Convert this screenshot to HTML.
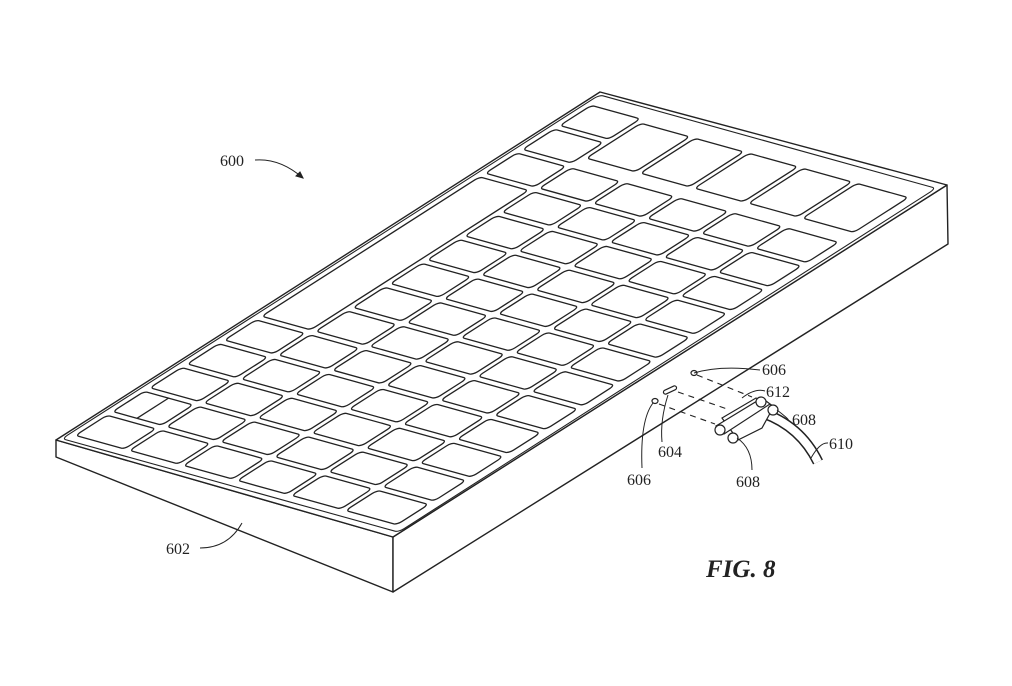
<!DOCTYPE html>
<html><head><meta charset="utf-8"><style>
html,body{margin:0;padding:0;background:#fff;}
svg{display:block;}
text{font-family:"Liberation Serif",serif;font-size:16px;fill:#222;}
</style></head><body>
<svg width="1012" height="686" viewBox="0 0 1012 686" xmlns="http://www.w3.org/2000/svg">
<g fill="#fff" stroke="#222" stroke-width="1.4" stroke-linejoin="round">
  <polygon points="56,440 393,537 393,592 56,457"/>
  <polygon points="393,537 947,185 948,244 393,592"/>
  <polygon points="56,440 600,92 947,185 393,537"/>
</g>
<defs>
  <g id="row" fill="none" stroke="#222" stroke-width="1.3">
    <rect x="183" y="0" width="143" height="58" rx="9" vector-effect="non-scaling-stroke"/>
    <rect x="341" y="0" width="143" height="58" rx="9" vector-effect="non-scaling-stroke"/>
    <rect x="499" y="0" width="143" height="58" rx="9" vector-effect="non-scaling-stroke"/>
    <rect x="657" y="0" width="143" height="58" rx="9" vector-effect="non-scaling-stroke"/>
    <rect x="815" y="0" width="150" height="58" rx="9" vector-effect="non-scaling-stroke"/>
  </g>
  <g id="rowT" fill="none" stroke="#222" stroke-width="1.3">
    <rect x="183" y="0" width="143" height="100" rx="9" vector-effect="non-scaling-stroke"/>
    <rect x="341" y="0" width="143" height="100" rx="9" vector-effect="non-scaling-stroke"/>
    <rect x="499" y="0" width="143" height="100" rx="9" vector-effect="non-scaling-stroke"/>
    <rect x="657" y="0" width="143" height="100" rx="9" vector-effect="non-scaling-stroke"/>
    <rect x="815" y="0" width="150" height="100" rx="9" vector-effect="non-scaling-stroke"/>
  </g>
  <rect id="k0" x="25" y="0" width="143" height="58" rx="9" fill="none" stroke="#222" stroke-width="1.3" vector-effect="non-scaling-stroke"/>
</defs>
<g transform="matrix(0.342,0.095,0.544,-0.348,56,440)">
  <rect x="8" y="6" width="984" height="988" rx="10" fill="none" stroke="#222" stroke-width="1.1" vector-effect="non-scaling-stroke"/>
  <use href="#row" y="20"/>
  <use href="#row" y="88.5"/>
  <use href="#row" y="157"/>
  <use href="#row" y="225.5"/>
  <use href="#row" y="294"/>
  <use href="#row" y="362.5"/>
  <use href="#row" y="431"/>
  <use href="#row" y="499.5"/>
  <use href="#row" y="568"/>
  <use href="#row" y="636.5"/>
  <use href="#row" y="705"/>
  <use href="#row" y="773.5"/>
  <use href="#rowT" y="860"/>
  <use href="#k0" y="20"/>
  <use href="#k0" y="88.5"/>
  <line x1="96" y1="88.5" x2="96" y2="146.5" stroke="#222" stroke-width="1.3" vector-effect="non-scaling-stroke"/>
  <use href="#k0" y="157"/>
  <use href="#k0" y="225.5"/>
  <use href="#k0" y="294"/>
  <rect x="25" y="362.5" width="143" height="400.5" rx="9" fill="none" stroke="#222" stroke-width="1.3" vector-effect="non-scaling-stroke"/>
  <use href="#k0" y="773.5"/>
  <use href="#k0" y="842"/>
  <use href="#k0" y="910.5"/>
</g>
<!-- connector -->
<g fill="#fff" stroke="#222" stroke-width="1.2">
  <ellipse cx="694" cy="373" rx="3" ry="2.5"/>
  <ellipse cx="655" cy="401" rx="3" ry="2.5"/>
  <rect x="663" y="388" width="14" height="4" rx="2" transform="rotate(-25 670 390)"/>
  <path d="M760,412 Q800,425 818,462" fill="none" stroke-width="11" stroke="#222"/>
  <path d="M760,412 Q800,425 818,462" fill="none" stroke-width="8" stroke="#fff"/>
  <polygon points="722,418 756,398 774,406 762,428 738,440"/>
  <polygon points="716,426 762,398 770,404 724,434"/>
  <circle cx="720" cy="430" r="5"/>
  <circle cx="733" cy="438" r="5"/>
  <circle cx="761" cy="402" r="5"/>
  <circle cx="773" cy="410" r="5"/>
</g>
<g stroke="#222" stroke-width="1.1" stroke-dasharray="6,5" fill="none">
  <line x1="697" y1="375" x2="752" y2="397"/>
  <line x1="678" y1="392" x2="730" y2="410"/>
  <line x1="659" y1="404" x2="715" y2="424"/>
</g>
<g stroke="#222" stroke-width="1" fill="none">
  <path d="M255,160 Q280,158 303,178"/>
  <polygon points="303,178 296,176 300,172" fill="#222"/>
  <path d="M200,548 Q228,548 242,523"/>
  <path d="M694,373 Q720,365 760,370"/>
  <path d="M742,398 Q755,388 765,391"/>
  <path d="M777,410 Q790,420 788,420"/>
  <path d="M811,458 Q820,442 828,443"/>
  <path d="M668,395 Q660,420 662,442"/>
  <path d="M653,403 Q640,420 642,468"/>
  <path d="M737,438 Q752,448 752,470"/>
</g>
<text x="220" y="166">600</text>
<text x="166" y="554">602</text>
<text x="762" y="375">606</text>
<text x="766" y="397">612</text>
<text x="792" y="425">608</text>
<text x="829" y="449">610</text>
<text x="658" y="457">604</text>
<text x="627" y="485">606</text>
<text x="736" y="487">608</text>
<text x="706" y="577" style="font-size:25px;font-weight:bold;font-style:italic;">FIG. 8</text>
</svg>
</body></html>
